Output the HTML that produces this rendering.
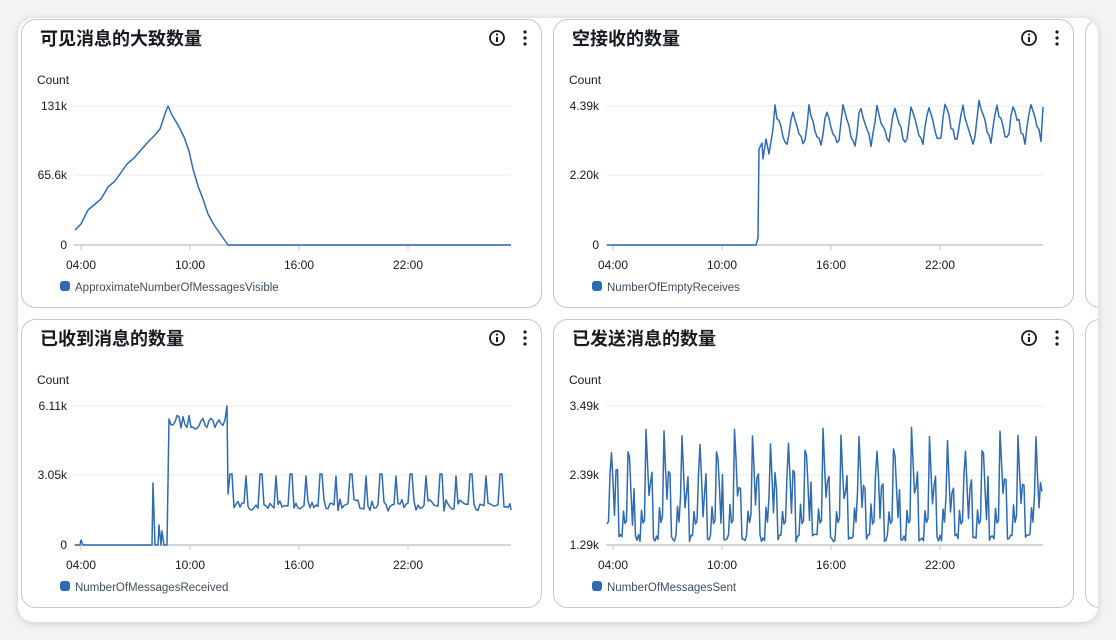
<!DOCTYPE html>
<html><head><meta charset="utf-8"><style>
html,body{margin:0;padding:0;width:1116px;height:640px;overflow:hidden;background:#f3f3f3;}
svg{display:block}
text{font-family:"Liberation Sans","Noto Sans CJK SC",sans-serif;}
</style></head><body>
<svg id="s" width="1116" height="640" xmlns="http://www.w3.org/2000/svg">
<defs><filter id="sh" x="-5%" y="-5%" width="110%" height="110%"><feDropShadow dx="0" dy="1" stdDeviation="4" flood-color="#000" flood-opacity="0.18"/></filter>
<clipPath id="cc"><rect x="18" y="18" width="1080" height="604" rx="16"/></clipPath></defs>
<rect x="18" y="18" width="1080" height="604" rx="16" fill="#fff" filter="url(#sh)"/>
<g clip-path="url(#cc)" id="g"></g>
</svg>
<script>
var g=document.getElementById('g');var NS='http://www.w3.org/2000/svg';
function el(t,a,txt){var e=document.createElementNS(NS,t);for(var k in a)e.setAttribute(k,a[k]);if(txt!=null)e.textContent=txt;g.appendChild(e);return e;}
var seed=7;function rnd(){seed=(seed*16807)%2147483647;return seed/2147483647;}
function panel(px,py,title,ylabels,legend,pts){
 el('rect',{x:px+0.5,y:py+0.5,width:520,height:288,rx:14,fill:'#fff',stroke:'#c6c6cd'});
 el('text',{x:px+19,y:py+26,'font-size':18,'font-weight':'bold',fill:'#16191f'},title);
 var ix=px+476,iy=py+19;
 el('circle',{cx:ix,cy:iy,r:7,fill:'none',stroke:'#16191f','stroke-width':1.8});
 el('rect',{x:ix-1,y:iy-1,width:2,height:5,fill:'#16191f'});
 el('circle',{cx:ix,cy:iy-3.5,r:1.1,fill:'#16191f'});
 for(var i=0;i<3;i++)el('circle',{cx:px+504,cy:py+13+i*6,r:1.6,fill:'#16191f'});
 el('text',{x:px+16,y:py+65,'font-size':12,fill:'#16191f'},'Count');
 var ys=[py+87,py+156,py+226];
 for(var i=0;i<3;i++){el('line',{x1:px+53,x2:px+490,y1:ys[i],y2:ys[i],stroke:i==2?'#c6c6cd':'#ebebeb','stroke-width':i==2?1.5:1});
  el('text',{x:px+46,y:ys[i]+4,'font-size':12,fill:'#16191f','text-anchor':'end'},ylabels[i]);}
 var xl=['04:00','10:00','16:00','22:00'];
 for(var i=0;i<4;i++){var x=px+60+i*109;el('line',{x1:x,x2:x,y1:ys[2],y2:ys[2]+5,stroke:'#c6c6cd'});
  el('text',{x:x,y:py+250,'font-size':12,fill:'#16191f','text-anchor':'middle'},xl[i]);}
 el('rect',{x:px+39,y:py+262,width:10,height:10,rx:3,fill:'#2e6bb0'});
 el('text',{x:px+54,y:py+272,'font-size':11.5,fill:'#414d5c'},legend);
 el('polyline',{points:pts.map(function(p){return (px+p[0]).toFixed(1)+','+(py+p[1]).toFixed(1)}).join(' '),fill:'none',stroke:'#2e6bb0','stroke-width':1.5,'stroke-linejoin':'round'});
}
var a=[[54,211],[60,205],[67,191],[80,180],[87,168],[94,162],[106,145],[113,139],[120,131],[127,123],[133,117],[139,110],[145,92],[147,87],[151,96],[157,106],[163,118],[168,132],[172,150],[177,167],[182,180],[187,195],[193,206],[207,226],[490,226]];
panel(21,19,'可见消息的大致数量',['131k','65.6k','0'],'ApproximateNumberOfMessagesVisible',a);
var b=[[54,226],[203,226],[205,219],[206,130],[209,124],[210,140],[213,120],[216,135],[220,110]];
for(var x=222;x<490;x+=2){var ph=(x-222)%17;var y=ph<12?90+ph*3.3:127-(ph-12)*7;b.push([x,y+(rnd()-0.5)*8-((x-222)/268)*6]);}
b.push([490,88]);
panel(553,19,'空接收的数量',['4.39k','2.20k','0'],'NumberOfEmptyReceives',b);
var c=[[54,226],[59,226],[60,221],[62,226],[131,226],[132,164],[134,226],[137,226],[138,206],[140,226],[141,212],[143,226],[146,226],[148,100]];
for(var x=150;x<205;x+=2)c.push([x,96+rnd()*14]);
c.push([206,87],[207,175]);
for(var x=209;x<490;x+=2){var ph=(x-209)%15;var y=ph<3?155+ph*2:ph<9?180+rnd()*12:190-rnd()*6;if(ph==2)y=155;c.push([x,y]);}
c.push([490,191]);
panel(21,319,'已收到消息的数量',['6.11k','3.05k','0'],'NumberOfMessagesReceived',c);
var d=[];
for(var x=54;x<=490;x+=1.5){var ph=((x-54)%17.7)/17.7;var y;
 if(ph<0.12)y=205-ph*30;else if(ph<0.22)y=215-(ph-0.12)*1300+rnd()*6; else if(ph<0.45)y=110+(ph-0.22)*400+rnd()*10; else if(ph<0.6)y=175-rnd()*25; else y=215+rnd()*8-(ph>0.9?30:0);
 if(y<87)y=87;if(y>226)y=226;d.push([x,y]);}
panel(553,319,'已发送消息的数量',['3.49k','2.39k','1.29k'],'NumberOfMessagesSent',d);
el('rect',{x:1085.5,y:19.5,width:60,height:288,rx:14,fill:'#fff',stroke:'#c6c6cd'});
el('rect',{x:1085.5,y:319.5,width:60,height:288,rx:14,fill:'#fff',stroke:'#c6c6cd'});
</script>
</body></html>
